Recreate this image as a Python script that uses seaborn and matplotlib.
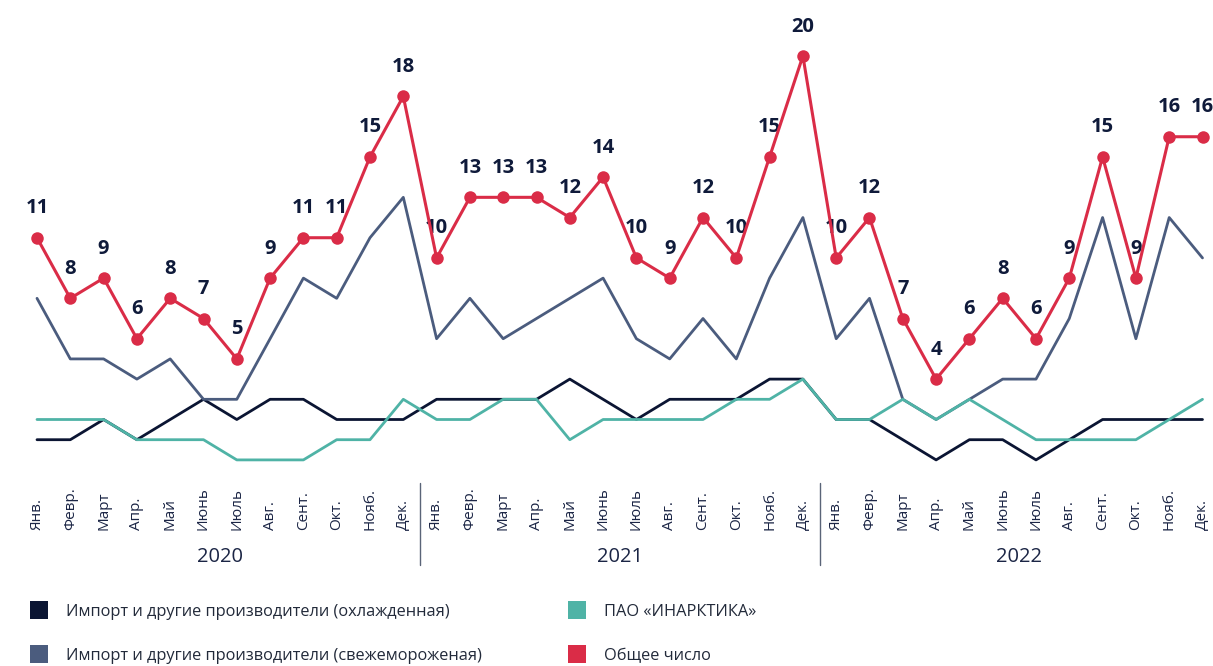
import matplotlib
matplotlib.use('Agg')
import matplotlib.pyplot as plt
import matplotlib.transforms as mtransforms
from matplotlib.patches import Patch
import numpy as np
import pandas as pd
import seaborn as sns

MONTHS = ['Янв.', 'Февр.', 'Март', 'Апр.', 'Май', 'Июнь',
          'Июль', 'Авг.', 'Сент.', 'Окт.', 'Нояб.', 'Дек.']
YEARS = ['2020', '2021', '2022']

# Импорт и другие производители (охлажденная)
chilled = [1, 1, 2, 1, 2, 3, 2, 3, 3, 2, 2, 2,
           3, 3, 3, 3, 4, 3, 2, 3, 3, 3, 4, 4,
           2, 2, 1, 0, 1, 1, 0, 1, 2, 2, 2, 2]
# Импорт и другие производители (свежемороженая)
frozen = [8, 5, 5, 4, 5, 3, 3, 6, 9, 8, 11, 13,
          6, 8, 6, 7, 8, 9, 6, 5, 7, 5, 9, 12,
          6, 8, 3, 2, 3, 4, 4, 7, 12, 6, 12, 10]
# ПАО «ИНАРКТИКА»
inarctica = [2, 2, 2, 1, 1, 1, 0, 0, 0, 1, 1, 3,
             2, 2, 3, 3, 1, 2, 2, 2, 2, 3, 3, 4,
             2, 2, 3, 2, 3, 2, 1, 1, 1, 1, 2, 3]
# Общее число
total = [11, 8, 9, 6, 8, 7, 5, 9, 11, 11, 15, 18,
         10, 13, 13, 13, 12, 14, 10, 9, 12, 10, 15, 20,
         10, 12, 7, 4, 6, 8, 6, 9, 15, 9, 16, 16]

LABELS = ['Импорт и другие производители (охлажденная)',
          'Импорт и другие производители (свежемороженая)',
          'ПАО «ИНАРКТИКА»',
          'Общее число']
COLORS = ['#0b1533', '#4b5c7e', '#4fb3a6', '#da2c47']
TEXT_COLOR = '#0f1a3a'

sns.set_style('white')
plt.rcParams['font.family'] = ['Open Sans', 'DejaVu Sans']

n = len(total)
idx = np.arange(n)
df = pd.DataFrame({
    'idx': np.tile(idx, 3),
    'value': chilled + frozen + inarctica,
    'series': np.repeat(LABELS[:3], n),
})
df_total = pd.DataFrame({'idx': idx, 'value': total})

fig = plt.figure(figsize=(12.13, 6.66), dpi=100)
ax = fig.add_axes([0, 1 - 470 / 666, 1, 470 / 666])

sns.lineplot(data=df, x='idx', y='value', hue='series',
             palette=dict(zip(LABELS[:3], COLORS[:3])),
             legend=False, linewidth=2.0, ax=ax)
sns.lineplot(data=df_total, x='idx', y='value', color=COLORS[3],
             marker='o', markersize=9, markeredgewidth=0,
             linewidth=2.2, ax=ax, zorder=5)

for i, v in enumerate(total):
    ax.annotate(str(v), (i, v), xytext=(0, 14), textcoords='offset points',
                ha='center', va='bottom', fontsize=14.5, fontweight='bold',
                color=TEXT_COLOR, annotation_clip=False)

step = 33.3
ax.set_xlim(-37 / step, (1213 - 37) / step)
ax.set_ylim(-0.5, 22.77)
for s in ax.spines.values():
    s.set_visible(False)
ax.set_yticks([])
ax.set_xlabel('')
ax.set_ylabel('')

ax.set_xticks(idx)
ax.set_xticklabels(MONTHS * len(YEARS), rotation=90, fontsize=11,
                   color='#1b2545')
for lbl in ax.get_xticklabels():
    lbl.set_verticalalignment('bottom')
ax.tick_params(axis='x', length=0, pad=43)

trans = mtransforms.blended_transform_factory(ax.transData, ax.transAxes)
for k, y in enumerate(YEARS):
    ax.text(k * 12 + 5.5, -87 / 470, y, transform=trans, ha='center',
            va='center', fontsize=14.5, color='#1b2545')
for k in range(1, len(YEARS)):
    ax.axvline(k * 12 - 0.5, ymin=-95 / 470, ymax=-13 / 470,
               color='#5a6478', linewidth=1.0, clip_on=False)

handles = [Patch(facecolor=c, edgecolor='none') for c in COLORS]
leg_kw = dict(loc='upper left', frameon=False, fontsize=11.8,
              handlelength=1.1, handleheight=1.35, handletextpad=1.1,
              labelspacing=1.55, borderpad=0, borderaxespad=0,
              labelcolor='#222a3a')
fig.legend(handles[:2], LABELS[:2], bbox_to_anchor=(30 / 1213, 1 - 601 / 666),
           **leg_kw)
fig.legend(handles[2:], LABELS[2:], bbox_to_anchor=(568 / 1213, 1 - 601 / 666),
           **leg_kw)

fig.savefig('out.png', dpi=100, facecolor='white')
